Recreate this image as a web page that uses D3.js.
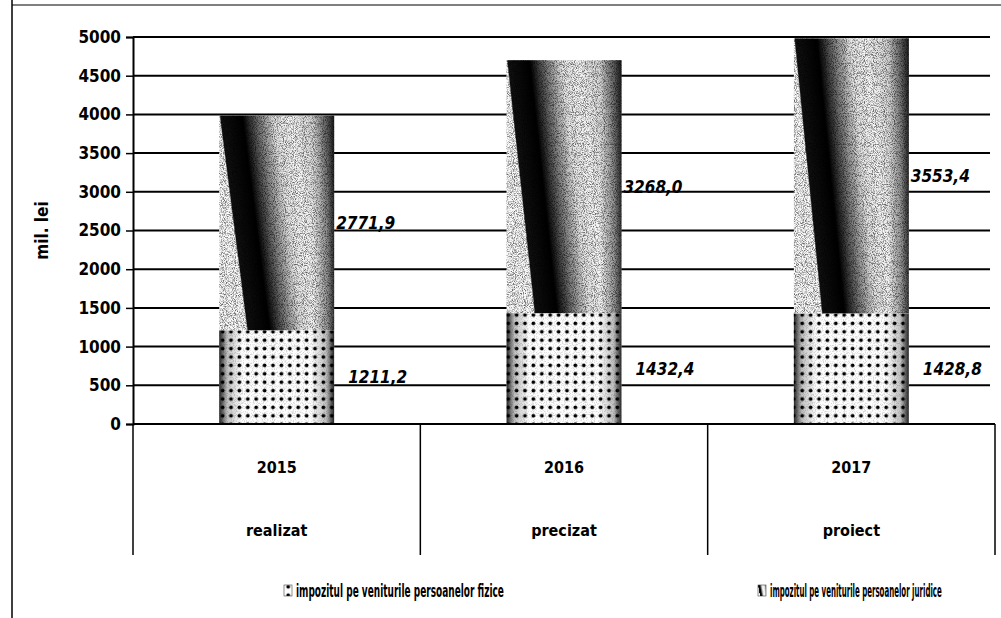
<!DOCTYPE html>
<html>
<head>
<meta charset="utf-8">
<script src="https://cdn.jsdelivr.net/npm/d3@7"></script>
<style>
  body { margin: 0; background: #fff; }
  svg { display: block; }
  .tick text { font-family: "DejaVu Sans Condensed", "DejaVu Sans", sans-serif; font-weight: bold; font-size: 17px; }
</style>
</head>
<body>
<div id="chart"></div>
<script>
// Impozitul pe venit - stacked bars 2015-2017
const years = ["2015", "2016", "2017"];
const stages = ["realizat", "precizat", "proiect"];
const fizice = [1211.2, 1432.4, 1428.8];
const juridice = [2771.9, 3268.0, 3553.4];
const seriesNames = [
  "impozitul pe veniturile persoanelor fizice",
  "impozitul pe veniturile persoanelor juridice"
];
const yTicks = [0, 500, 1000, 1500, 2000, 2500, 3000, 3500, 4000, 4500, 5000];

const W = 1001, H = 618;
const margin = { top: 37, right: 6, bottom: 194, left: 133 };

const svg = d3.select("#chart").append("svg")
  .attr("width", W)
  .attr("height", H);

const fmt = d3.formatLocale({ decimal: ",", thousands: "", grouping: [3], currency: ["", ""] }).format(".1f");

// ---- patterns / gradients ----
const defs = svg.append("defs");

// slanted dark band for the juridice series
const jg = defs.append("linearGradient")
  .attr("id", "jurGrad")
  .attr("x1", 0).attr("x2", 1).attr("y1", 0).attr("y2", 0)
  .attr("gradientTransform", "skewX(13.5)");
[[0, "#fafafa"], [0.012, "#111"], [0.2, "#000"], [0.34, "#777"], [0.48, "#e6e6e6"],
 [0.62, "#f8f8f8"], [0.8, "#d6d6d6"], [1, "#666"]]
  .forEach(([o, c]) => jg.append("stop").attr("offset", o).attr("stop-color", c));

const edge = defs.append("linearGradient").attr("id", "edgeGrad");
[[0, 0], [0.82, 0], [0.94, 0.35], [1, 0.75]]
  .forEach(([o, a]) => edge.append("stop").attr("offset", o).attr("stop-color", "#000").attr("stop-opacity", a));

const edge2 = defs.append("linearGradient").attr("id", "edgeGrad2");
[[0, 0.85], [0.07, 0.25], [0.2, 0], [0.8, 0], [0.93, 0.25], [1, 0.85]]
  .forEach(([o, a]) => edge2.append("stop").attr("offset", o).attr("stop-color", "#000").attr("stop-opacity", a));

const makeGrain = (id, seed, slope, cut) => {
  const f = defs.append("filter").attr("id", id)
    .attr("x", 0).attr("y", 0).attr("width", 1).attr("height", 1);
  f.append("feTurbulence").attr("type", "fractalNoise").attr("baseFrequency", 1.1)
    .attr("numOctaves", 1).attr("seed", seed).attr("result", "n");
  f.append("feColorMatrix").attr("in", "n").attr("type", "matrix")
    .attr("values", `0 0 0 0 0  0 0 0 0 0  0 0 0 0 0  ${slope} 0 0 0 ${cut}`).attr("result", "a");
  f.append("feComposite").attr("in", "a").attr("in2", "SourceGraphic").attr("operator", "in");
};
makeGrain("grainDark", 3, 5, -2.4);
makeGrain("grainLight", 8, -5, 2.6);

const dots = defs.append("pattern").attr("id", "dots")
  .attr("patternUnits", "userSpaceOnUse").attr("width", 8.4).attr("height", 8.4);
dots.append("rect").attr("width", 8.4).attr("height", 8.4).attr("fill", "#fff");
dots.append("circle").attr("cx", 4.2).attr("cy", 4.2).attr("r", 1.9).attr("fill", "#000");

// ---- scales ----
const x = d3.scaleBand()
  .domain(years)
  .range([margin.left, W - margin.right])
  .paddingInner(0.6)
  .paddingOuter(0.3);

const y = d3.scaleLinear()
  .domain([0, 5000])
  .range([H - margin.bottom, margin.top]);

const step = x.step();
const catLeft = d => x(d) - step * 0.3;

// outer frame (left and top edges)
svg.append("line").attr("x1", 12).attr("x2", 12).attr("y1", 0).attr("y2", H)
  .attr("stroke", "#000").attr("stroke-width", 1.5);
svg.append("line").attr("x1", 12).attr("x2", W).attr("y1", 5).attr("y2", 5)
  .attr("stroke", "#000").attr("stroke-width", 1.2);

// gridlines
svg.append("g")
  .selectAll("line")
  .data(yTicks.filter(t => t > 0))
  .join("line")
  .attr("x1", margin.left)
  .attr("x2", W - 11)
  .attr("y1", d => y(d))
  .attr("y2", d => y(d))
  .attr("stroke", "#000")
  .attr("stroke-width", 2);

// y axis
const yAxis = svg.append("g")
  .attr("transform", `translate(${margin.left},0)`)
  .call(d3.axisLeft(y).tickValues(yTicks).tickFormat(d3.format("d")).tickSize(7).tickPadding(5));
yAxis.select(".domain").attr("stroke-width", 2);
yAxis.selectAll(".tick line").attr("stroke-width", 1.5);
yAxis.selectAll(".tick text").attr("fill", "#000");

// y label
svg.append("text")
  .attr("transform", `translate(42,${y(2500)}) rotate(-90)`)
  .attr("text-anchor", "middle")
  .attr("dy", "0.35em")
  .attr("font-family", "'DejaVu Sans Condensed', 'DejaVu Sans', sans-serif")
  .attr("font-weight", "bold")
  .attr("font-size", 17)
  .text("mil. lei");

// ---- bars ----
const bars = svg.append("g");
years.forEach((yr, i) => {
  const bx = x(yr), bw = x.bandwidth();
  const y0 = y(0), y1 = y(fizice[i]), y2 = y(fizice[i] + juridice[i]);
  const g = bars.append("g");
  const seg = (top, bottom) => g.append("rect")
    .attr("x", bx).attr("y", top).attr("width", bw).attr("height", bottom - top);
  // bottom: fizice
  seg(y1, y0).attr("fill", "url(#dots)");
  seg(y1, y0).attr("fill", "url(#edgeGrad2)");
  seg(y1, y0).attr("fill", "#000").attr("opacity", 0.15).attr("filter", "url(#grainDark)");
  // top: juridice
  seg(y2, y1).attr("fill", "url(#jurGrad)");
  seg(y2, y1).attr("fill", "url(#edgeGrad)");
  seg(y2, y1).attr("fill", "#000").attr("opacity", 0.25).attr("filter", "url(#grainDark)");
  seg(y2, y1).attr("fill", "#fff").attr("opacity", 0.45).attr("filter", "url(#grainLight)");
});

// value labels
const labelFont = "'DejaVu Sans Condensed', 'DejaVu Sans', sans-serif";
const labels = svg.append("g")
  .attr("font-family", labelFont)
  .attr("font-weight", "bold")
  .attr("font-style", "italic")
  .attr("font-size", 17);
years.forEach((yr, i) => {
  const right = x(yr) + x.bandwidth();
  labels.append("text")
    .attr("x", right + 14)
    .attr("y", y(fizice[i] / 2))
    .attr("dy", "0.35em")
    .text(fmt(fizice[i]));
  labels.append("text")
    .attr("x", right + 2)
    .attr("y", y(fizice[i] + juridice[i] / 2))
    .attr("dy", "0.35em")
    .text(fmt(juridice[i]));
});

// ---- category axis (table-like) ----
const base = y(0);
svg.append("line")
  .attr("x1", margin.left).attr("x2", W - margin.right)
  .attr("y1", base).attr("y2", base)
  .attr("stroke", "#000").attr("stroke-width", 2);

const dividers = years.map(catLeft).concat([W - margin.right]);
svg.append("g").selectAll("line")
  .data(dividers)
  .join("line")
  .attr("x1", d => d).attr("x2", d => d)
  .attr("y1", base).attr("y2", base + 131)
  .attr("stroke", "#000").attr("stroke-width", 1.5);

const cat = svg.append("g")
  .attr("font-family", labelFont)
  .attr("font-weight", "bold")
  .attr("font-size", 16)
  .attr("text-anchor", "middle");
years.forEach((yr, i) => {
  const cx = x(yr) + x.bandwidth() / 2;
  cat.append("text").attr("x", cx).attr("y", base + 43).attr("dy", "0.35em").text(yr);
  cat.append("text").attr("x", cx).attr("y", base + 106).attr("dy", "0.35em").text(stages[i]);
});

// ---- legend ----
const legendX = [284, 758];
const legendW = [208, 172];
const legendFill = ["url(#dots)", "url(#jurGrad)"];
seriesNames.forEach((name, i) => {
  const lg = svg.append("g").attr("transform", `translate(${legendX[i]},591)`);
  lg.append("rect").attr("x", 0).attr("y", -6).attr("width", 8).attr("height", 11)
    .attr("fill", legendFill[i]).attr("stroke", "#444").attr("stroke-width", 0.6);
  const t = lg.append("text")
    .attr("font-family", labelFont)
    .attr("font-weight", "bold")
    .attr("font-size", 18)
    .attr("dy", "0.35em")
    .text(name);
  // squeeze horizontally to the width the legend entry takes in the chart
  const natural = t.node().getComputedTextLength();
  t.attr("transform", `translate(12,0) scale(${legendW[i] / natural},1)`);
});
</script>
</body>
</html>
